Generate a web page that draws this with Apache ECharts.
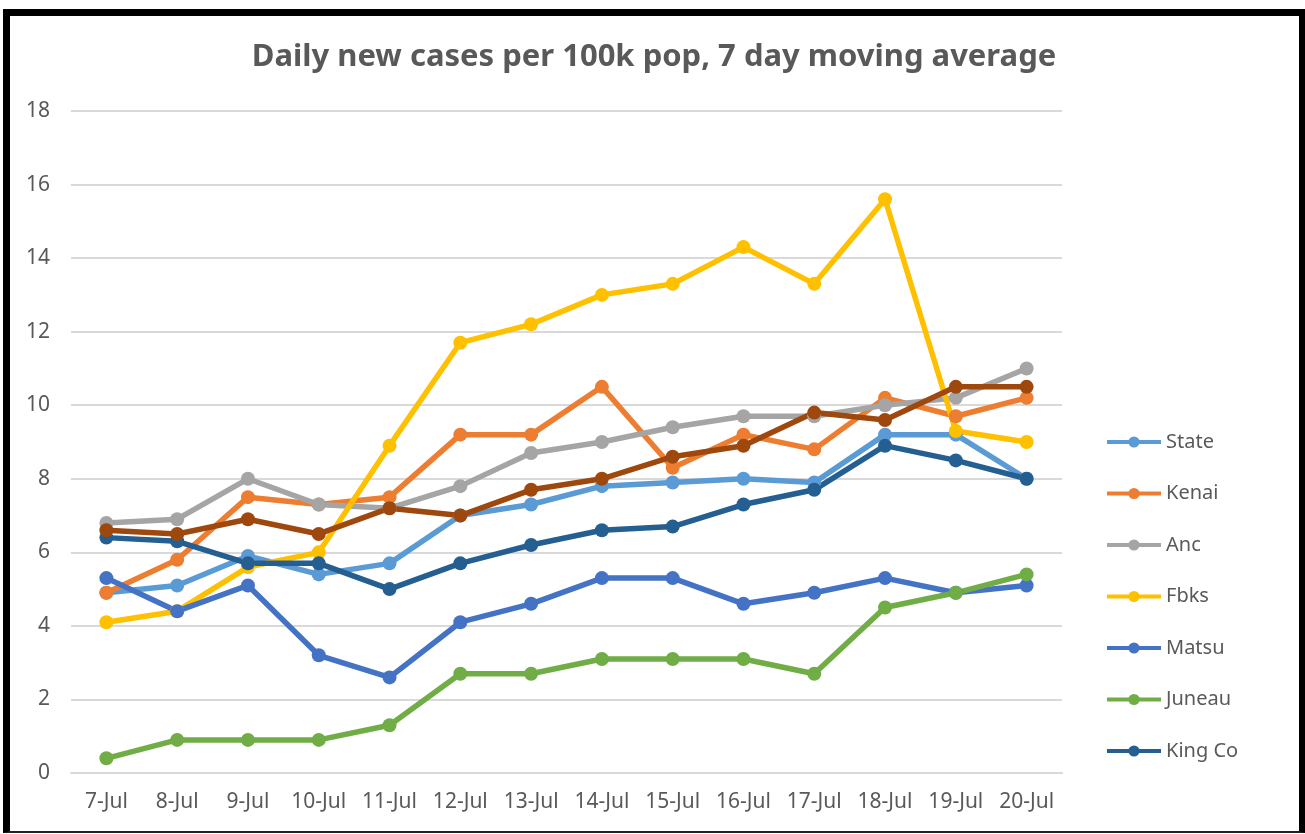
<!DOCTYPE html>
<html>
<head>
<meta charset="utf-8">
<script src="https://cdn.jsdelivr.net/npm/echarts@6/dist/echarts.min.js"></script>
<style>
  html, body { margin: 0; padding: 0; background: #fff; }
  #chart { position: absolute; left: 0; top: 0; width: 1305px; height: 834px; }
  #frame { position: absolute; left: 3px; top: 9px; width: 1289px; height: 815px;
           border-left: 7px solid #000; border-top: 7px solid #000; border-right: 6px solid #000;
           border-bottom: 2px solid #222; pointer-events: none; }
</style>
</head>
<body>
<div id="chart"></div>
<div id="frame"></div>
<script>
const categories = ['7-Jul','8-Jul','9-Jul','10-Jul','11-Jul','12-Jul','13-Jul','14-Jul','15-Jul','16-Jul','17-Jul','18-Jul','19-Jul','20-Jul'];
const stateVals  = [4.9, 5.1, 5.9, 5.4, 5.7, 7.0, 7.3, 7.8, 7.9, 8.0, 7.9, 9.2, 9.2, 8.0];
const kenaiVals  = [4.9, 5.8, 7.5, 7.3, 7.5, 9.2, 9.2, 10.5, 8.3, 9.2, 8.8, 10.2, 9.7, 10.2];
const ancVals    = [6.8, 6.9, 8.0, 7.3, 7.2, 7.8, 8.7, 9.0, 9.4, 9.7, 9.7, 10.0, 10.2, 11.0];
const fbksVals   = [4.1, 4.4, 5.6, 6.0, 8.9, 11.7, 12.2, 13.0, 13.3, 14.3, 13.3, 15.6, 9.3, 9.0];
const matsuVals  = [5.3, 4.4, 5.1, 3.2, 2.6, 4.1, 4.6, 5.3, 5.3, 4.6, 4.9, 5.3, 4.9, 5.1];
const juneauVals = [0.4, 0.9, 0.9, 0.9, 1.3, 2.7, 2.7, 3.1, 3.1, 3.1, 2.7, 4.5, 4.9, 5.4];
const kingVals   = [6.4, 6.3, 5.7, 5.7, 5.0, 5.7, 6.2, 6.6, 6.7, 7.3, 7.7, 8.9, 8.5, 8.0];
const otherVals  = [6.6, 6.5, 6.9, 6.5, 7.2, 7.0, 7.7, 8.0, 8.6, 8.9, 9.8, 9.6, 10.5, 10.5];

const seriesDefs = [
  { name: 'State',   data: stateVals,  color: '#5B9BD5' },
  { name: 'Kenai',   data: kenaiVals,  color: '#ED7D31' },
  { name: 'Anc',     data: ancVals,    color: '#A5A5A5' },
  { name: 'Fbks',    data: fbksVals,   color: '#FFC000' },
  { name: 'Matsu',   data: matsuVals,  color: '#4472C4' },
  { name: 'Juneau',  data: juneauVals, color: '#70AD47' },
  { name: 'King Co', data: kingVals,   color: '#255E91' },
  { name: 'Other',   data: otherVals,  color: '#9E480E' }
];
const legendNames = ['State','Kenai','Anc','Fbks','Matsu','Juneau','King Co'];

const FONT = '"Noto Sans", "Open Sans", sans-serif';
const chart = echarts.init(document.getElementById('chart'), null, { renderer: 'canvas' });
chart.setOption({
  animation: false,
  backgroundColor: '#fff',
  title: {
    text: 'Daily new cases per 100k pop, 7 day moving average',
    left: 649, top: 37, textAlign: 'center',
    textStyle: { fontFamily: FONT, fontSize: 31, fontWeight: 'bold', color: '#595959' }
  },
  legend: {
    data: legendNames,
    orient: 'vertical',
    left: 1100, top: 427,
    itemWidth: 54, itemHeight: 14, itemGap: 31.5,
    lineStyle: { width: 4 },
    textStyle: { fontFamily: FONT, fontSize: 20, color: '#595959', lineHeight: 20 }
  },
  grid: { left: 71, right: 243, top: 111, bottom: 61, containLabel: false },
  xAxis: {
    type: 'category', data: categories, boundaryGap: true,
    axisLine: { show: true, lineStyle: { color: '#d9d9d9', width: 2 } },
    axisTick: { show: false },
    axisLabel: { fontFamily: FONT, fontSize: 21, color: '#595959', margin: 19, interval: 0 }
  },
  yAxis: {
    type: 'value', min: 0, max: 18, interval: 2,
    axisLine: { show: false }, axisTick: { show: false },
    splitLine: { lineStyle: { color: '#d9d9d9', width: 2 } },
    axisLabel: { fontFamily: FONT, fontSize: 21, color: '#595959', margin: 21 }
  },
  series: seriesDefs.map(s => ({
    name: s.name, type: 'line', data: s.data,
    symbol: 'circle', symbolSize: 14,
    lineStyle: { width: 5.5, color: s.color },
    itemStyle: { color: s.color },
    emphasis: { disabled: true }
  }))
});
</script>
</body>
</html>
